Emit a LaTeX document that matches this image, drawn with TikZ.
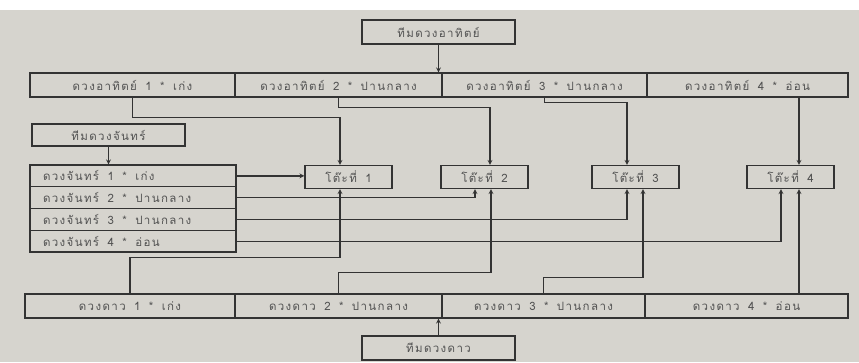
\documentclass[tikz,border=0pt]{standalone}
\usepackage{fontspec}
\newfontfamily\thaifont[Script=Thai,LetterSpace=12,WordSpace=1.6]{Loma}
\usepackage{tikz}
\usetikzlibrary{arrows,positioning,calc}
\definecolor{paper}{HTML}{D6D4CE}
\definecolor{ink}{HTML}{333333}
\definecolor{txt}{HTML}{525252}
\tikzset{>=stealth,
  box/.style={draw=ink, line width=1.2pt, inner sep=0pt, text=txt,
    font=\thaifont\fontsize{11.5}{14}\selectfont},
  teambox/.style={box, minimum width=153, minimum height=24},
  rowbox/.style={box, minimum height=24},
  moonbox/.style={box, minimum height=21.75, inner xsep=13,
    execute at begin node={\hbox to 180pt\bgroup}, execute at end node={\hfil\egroup}},
  tablebox/.style={box, minimum width=87, minimum height=23},
  link/.style={draw=ink, line width=1.2pt, ->}}

\begin{document}
\begin{tikzpicture}[x=1pt,y=-1pt]
                % Paper
                \useasboundingbox (0,0) rectangle (859,362);
                \fill[paper] (0,0) rectangle (859,362);
                \fill[white] (0,0) rectangle (859,10);

                % Distances
                \def\rowy{85}
                \def\stary{306}
                \def\taby{177}
                \def\dT{8.5}

                % Sun team and its row
                \node[teambox] (sunteam) at (438.5,32) {ทีมดวงอาทิตย์};
                \node[rowbox, minimum width=205] (sun1) at (132.5,\rowy) {ดวงอาทิตย์ 1 * เก่ง};
                \node[rowbox, minimum width=207] (sun2) at (338.5,\rowy) {ดวงอาทิตย์ 2 * ปานกลาง};
                \node[rowbox, minimum width=205] (sun3) at (544.5,\rowy) {ดวงอาทิตย์ 3 * ปานกลาง};
                \node[rowbox, minimum width=201] (sun4) at (747.5,\rowy) {ดวงอาทิตย์ 4 * อ่อน};

                % Moon team and its list
                \node[teambox, minimum height=22] (moonteam) at (108.5,135) {ทีมดวงจันทร์};
                \node[moonbox] (moon1) at (133,175.9) {ดวงจันทร์ 1 * เก่ง};
                \node[moonbox] (moon2) at (133,197.6) {ดวงจันทร์ 2 * ปานกลาง};
                \node[moonbox] (moon3) at (133,219.4) {ดวงจันทร์ 3 * ปานกลาง};
                \node[moonbox] (moon4) at (133,241.1) {ดวงจันทร์ 4 * อ่อน};

                % Tables
                \node[tablebox] (t1) at (348.5,\taby) {โต๊ะที่ 1};
                \node[tablebox] (t2) at (484.5,\taby) {โต๊ะที่ 2};
                \node[tablebox] (t3) at (635.5,\taby) {โต๊ะที่ 3};
                \node[tablebox] (t4) at (790.5,\taby) {โต๊ะที่ 4};

                % Star row and its team
                \node[rowbox, minimum width=210] (star1) at (130,\stary) {ดวงดาว 1 * เก่ง};
                \node[rowbox, minimum width=207] (star2) at (338.5,\stary) {ดวงดาว 2 * ปานกลาง};
                \node[rowbox, minimum width=203] (star3) at (543.5,\stary) {ดวงดาว 3 * ปานกลาง};
                \node[rowbox, minimum width=203] (star4) at (746.5,\stary) {ดวงดาว 4 * อ่อน};
                \node[teambox] (starteam) at (438.5,348) {ทีมดวงดาว};

                % Team arrows
                \draw[link] (sunteam.south) -- (sunteam.south |- sun2.north);
                \draw[link] (moonteam.south) -- (moonteam.south |- moon1.north);
                \draw[link] (starteam.north) -- (starteam.north |- star2.south);

                % Sun to tables
                \coordinate (t4in) at ($(t4.north)+(\dT,0)$);
                \draw[link] (sun1.south) -- ++(0,20) -| ($(t1.north)-(\dT,0)$);
                \draw[link] (sun2.south) -- ++(0,10) -| ($(t2.north)+(5.5,0)$);
                \draw[link] (sun3.south) -- ++(0,5) -| ($(t3.north)-(\dT,0)$);
                \draw[link] (sun4.south -| t4in) -- (t4in);

                % Moon to tables
                \draw[link] (moon1.east) -- (moon1.east -| t1.west);
                \draw[link] (moon2.east) -| ($(t2.south)-(9.5,0)$);
                \draw[link] (moon3.east) -| ($(t3.south)-(\dT,0)$);
                \draw[link] (moon4.east) -| ($(t4.south)-(9.5,0)$);

                % Star to tables
                \coordinate (t4out) at ($(t4.south)+(\dT,0)$);
                \draw[link] (star1.north) -- ++(0,-36) -| ($(t1.south)-(\dT,0)$);
                \draw[link] (star2.north) -- ++(0,-21) -| ($(t2.south)+(6.5,0)$);
                \draw[link] (star3.north) -- ++(0,-16) -| ($(t3.south)+(7.5,0)$);
                \draw[link] (star4.north -| t4out) -- (t4out);
            \end{tikzpicture}
\end{document}
